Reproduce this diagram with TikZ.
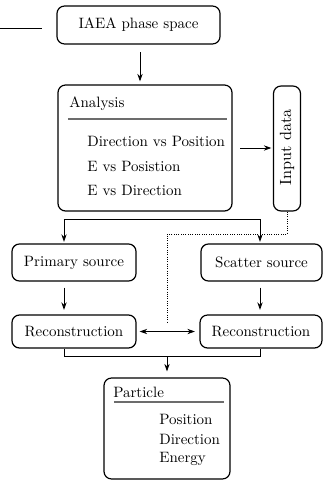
\documentclass[tikz,border=0pt]{standalone}
\usetikzlibrary{arrows.meta}
\begin{document}
\begin{tikzpicture}[x=0.6667pt,y=-0.6667pt,
  box/.style={draw,rounded corners=5pt,line width=0.8pt,inner sep=0pt},
  conn/.style={line width=0.55pt},
  arr/.style={conn,-{Stealth[length=5pt,width=3.5pt]}},
  txt/.style={inner sep=0pt,anchor=west,font=\fontsize{10}{12}\selectfont}]
\useasboundingbox (0,0) rectangle (323,481);
% stray line
\coordinate (s1) at (0,28); \coordinate (s2) at (42,28);
\draw[conn] (s1) -- (s2);
% boxes
\node[box,minimum width=108.7pt,minimum height=25.3pt] (iaea) at (138.5,25) {IAEA phase space};
\node[box,minimum width=116pt,minimum height=84pt] (ana) at (145,148) {};
\node[txt] (anat) at (69,104) {Analysis};
\coordinate (al1) at (68,119); \coordinate (al2) at (227,119);
\draw[line width=1pt,gray!85!black] (al1) -- (al2);
\node[txt] (a1) at (87,141) {Direction vs Position};
\node[txt] (a2) at (87,166) {E vs Posistion};
\node[txt] (a3) at (87,190) {E vs Direction};
\node[box,minimum width=18pt,minimum height=83.3pt] (inp) at (287,148.5) {};
\node[rotate=90,inner sep=0pt,font=\fontsize{10.8}{13}\selectfont] (inpt) at (287,147.5) {Input data};
\node[box,minimum width=82.7pt,minimum height=24.7pt] (prim) at (74,262.5) {Primary source};
\node[box,minimum width=80.7pt,minimum height=24.7pt] (scat) at (261.5,262.5) {Scatter source};
\node[box,minimum width=82.7pt,minimum height=22pt] (recl) at (74,331.5) {Reconstruction};
\node[box,minimum width=81.3pt,minimum height=22pt] (recr) at (261,331.5) {Reconstruction};
\node[box,minimum width=84pt,minimum height=67.3pt] (part) at (167,428.5) {};
\node[txt] (partt) at (113,392) {Particle};
\coordinate (pl1) at (114,402); \coordinate (pl2) at (224,402);
\draw[line width=1pt,gray!85!black] (pl1) -- (pl2);
\node[txt] (p1) at (159,419) {Position};
\node[txt] (p2) at (159,439) {Direction};
\node[txt] (p3) at (159,459) {Energy};
% connectors
\draw[arr,shorten <=5pt,shorten >=2pt] (iaea.south -| 140,0) -- (ana.north -| 140,0);
\draw[arr,shorten <=5pt,shorten >=1pt] (ana.east |- 0,148) -- (inp.west |- 0,148);
\coordinate (b1) at (64,219); \coordinate (b2) at (260,219);
\draw[arr,shorten >=1pt] (b1) -- (prim.north -| b1);
\draw[arr,shorten >=1pt] (b1) -- (b2) -- (scat.north -| b2);
\coordinate (d1) at (287,234); \coordinate (d2) at (167,234); \coordinate (d3) at (167,322);
\draw[conn,densely dotted] (inp.south -| d1) -- (d1) -- (d2) -- (d3);
\draw[arr,shorten <=4pt,shorten >=3pt] (prim.south -| 64,0) -- (recl.north -| 64,0);
\draw[arr,shorten <=4pt,shorten >=3pt] (scat.south -| 260,0) -- (recr.north -| 260,0);
\draw[conn,{Stealth[length=5pt,width=3.5pt]}-{Stealth[length=5pt,width=3.5pt]},shorten <=2pt,shorten >=3pt] (recl.east) -- (recr.west);
\coordinate (m1) at (64,356); \coordinate (m2) at (260,356); \coordinate (m3) at (167,356);
\draw[conn] (recl.south -| m1) -- (m1) -- (m2) -- (recr.south -| m2);
\draw[arr,shorten >=4pt] (m3) -- (part.north -| m3);
\end{tikzpicture}
\end{document}
